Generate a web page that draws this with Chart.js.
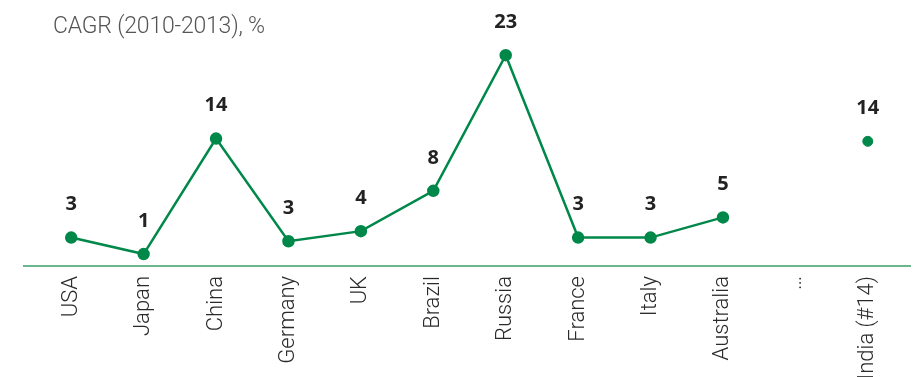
<!DOCTYPE html>
<html>
<head>
<meta charset="utf-8">
<script src="https://cdn.jsdelivr.net/npm/chart.js@4.4.0/dist/chart.umd.min.js"></script>
<style>
  html, body { margin: 0; padding: 0; background: #fff; }
  #wrap { position: relative; width: 921px; height: 377px; }
  #title { position: absolute; left: 53px; top: 12px; font-family: Roboto, sans-serif; font-weight: 300; font-size: 23px; color: #555; letter-spacing: -0.2px; }
</style>
</head>
<body>
<div id="wrap">
  <canvas id="cagrChart" width="921" height="377"></canvas>
  <div id="title">CAGR (2010-2013), %</div>
</div>
<script>
const countries = ['USA', 'Japan', 'China', 'Germany', 'UK', 'Brazil', 'Russia', 'France', 'Italy', 'Australia', '…', 'India (#14)'];
const mainSeries = [3.1, 1.3, 13.9, 2.7, 3.8, 8.2, 23, 3.1, 3.1, 5.3, null, null];
const indiaSeries = [null, null, null, null, null, null, null, null, null, null, null, 13.6];
const shownLabels = ['3', '1', '14', '3', '4', '8', '23', '3', '3', '5', '', '14'];

const green = '#00884a';

// draws the bold value above each point and the baseline
const valueLabels = {
    id: 'valueLabels',
    afterDatasetsDraw(chart) {
        const ctx = chart.ctx;
        const xs = chart.scales.x;
        const ys = chart.scales.y;
        ctx.save();
        ctx.strokeStyle = '#3a9e66';
        ctx.lineWidth = 1.5;
        ctx.beginPath();
        ctx.moveTo(23, ys.getPixelForValue(0));
        ctx.lineTo(911, ys.getPixelForValue(0));
        ctx.stroke();

        ctx.font = 'bold 20px "Open Sans", sans-serif';
        ctx.fillStyle = '#222';
        ctx.textAlign = 'center';
        ctx.textBaseline = 'middle';
        countries.forEach((c, i) => {
            const v = mainSeries[i] !== null ? mainSeries[i] : indiaSeries[i];
            if (v === null) return;
            ctx.fillText(shownLabels[i], xs.getPixelForValue(i), ys.getPixelForValue(v) - 33);
        });
        ctx.restore();
    }
};

new Chart(document.getElementById('cagrChart'), {
    type: 'line',
    data: {
        labels: countries,
        datasets: [{
            data: mainSeries,
            borderColor: green,
            backgroundColor: green,
            borderWidth: 2.5,
            pointRadius: 5,
            pointHoverRadius: 5,
            spanGaps: false,
            fill: false
        }, {
            data: indiaSeries,
            borderColor: green,
            backgroundColor: green,
            pointRadius: 5,
            showLine: false
        }]
    },
    options: {
        responsive: false,
        animation: false,
        layout: { padding: { left: 35, right: 17, top: 0, bottom: 0 } },
        plugins: {
            legend: { display: false },
            tooltip: { enabled: false }
        },
        scales: {
            x: {
                offset: true,
                grid: { display: false, drawTicks: false },
                border: { display: false },
                afterFit(scale) { scale.height = 111; },
                ticks: {
                    autoSkip: false,
                    minRotation: 90,
                    maxRotation: 90,
                    padding: 10,
                    color: '#2a2a2a',
                    font: { family: 'Roboto, sans-serif', weight: 300, size: 22 }
                }
            },
            y: {
                display: false,
                min: 0,
                max: 28.2
            }
        }
    },
    plugins: [valueLabels]
});
</script>
</body>
</html>
